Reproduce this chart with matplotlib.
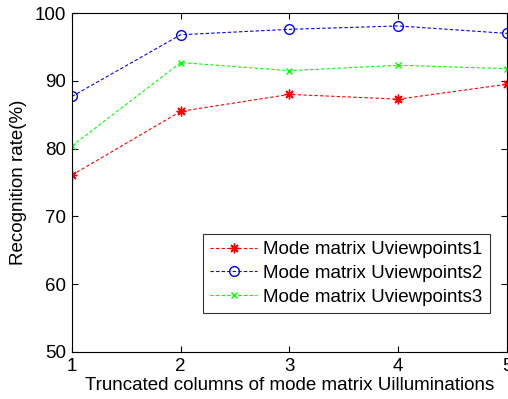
import matplotlib
matplotlib.use('Agg')
import matplotlib.pyplot as plt

plt.rcParams['font.family'] = ['Liberation Sans', 'DejaVu Sans']

cols = [1, 2, 3, 4, 5]
uview1 = [76.1, 85.5, 88.0, 87.3, 89.5]
uview2 = [87.7, 96.8, 97.6, 98.1, 97.0]
uview3 = [80.4, 92.7, 91.5, 92.3, 91.8]
labels = ['Mode matrix Uviewpoints1', 'Mode matrix Uviewpoints2', 'Mode matrix Uviewpoints3']

fig = plt.figure(figsize=(5.08, 3.99), dpi=100)
ax = fig.add_axes([0.1417, 0.1178, 0.8563, 0.8495])

ax.plot(cols, uview1, color='#ff0000', ls='--', marker=(8, 2, 0), ms=7, lw=0.8, dashes=(3, 2), label=labels[0])
ax.plot(cols, uview2, color='#0000ff', ls='--', marker='o', ms=7, mfc='none', lw=0.8, dashes=(3, 2), label=labels[1])
ax.plot(cols, uview3, color='#00ff00', ls='--', marker='x', ms=4, lw=0.8, dashes=(3, 2), label=labels[2])

ax.set_xlim(1, 5)
ax.set_ylim(50, 100)
ax.set_xticks(cols)
ax.set_yticks([50, 60, 70, 80, 90, 100])
ax.tick_params(direction='in', top=True, right=True, labelsize=13.5, length=4, pad=4)
ax.set_xlabel('Truncated columns of mode matrix Uilluminations', fontsize=13.5, labelpad=2)
ax.set_ylabel('Recognition rate(%)', fontsize=13.5, labelpad=6)

leg = ax.legend(loc='lower right', bbox_to_anchor=(0.96, 0.115), fontsize=13.5, frameon=True,
                fancybox=False, edgecolor='black', borderpad=0.4, labelspacing=0.35,
                handlelength=2.5, handletextpad=0.3, borderaxespad=0)
leg.get_frame().set_linewidth(0.8)

fig.savefig('out.png', dpi=100)
